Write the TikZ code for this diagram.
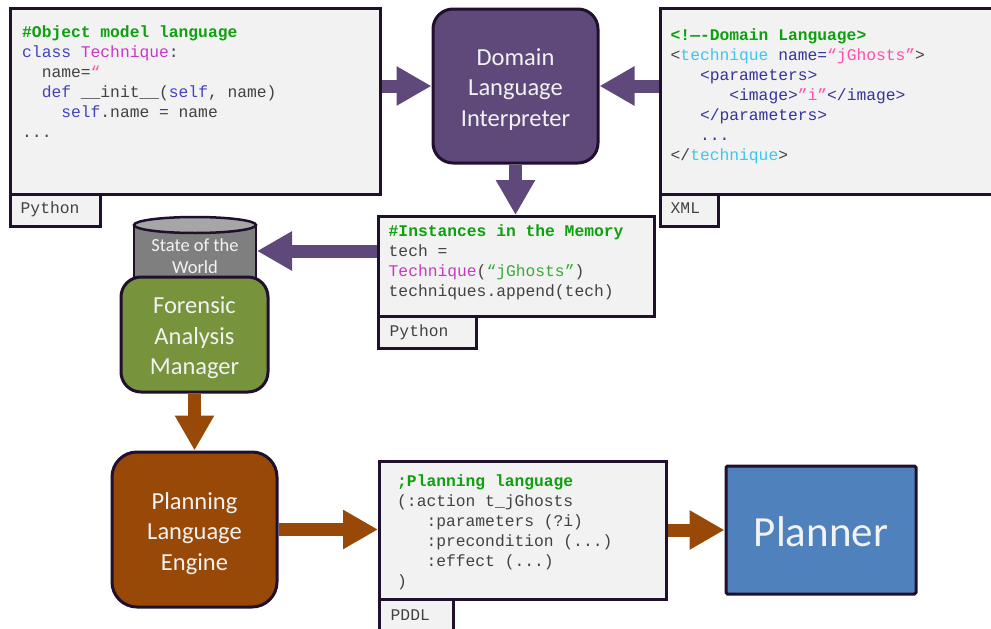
\documentclass[tikz,border=0pt]{standalone}
\usepackage{fontspec}
\setmainfont{Carlito}
\newfontfamily\codefont{Liberation Mono}
\usetikzlibrary{arrows.meta,backgrounds}

\definecolor{edge}{HTML}{20102E}
\definecolor{dlifill}{HTML}{5F497A}
\definecolor{famfill}{HTML}{77933C}
\definecolor{plefill}{HTML}{984807}
\definecolor{planfill}{HTML}{4F81BD}
\definecolor{codebg}{HTML}{F2F2F2}
\definecolor{cmt}{HTML}{0EA00E}
\definecolor{kw}{HTML}{4242BE}
\definecolor{cls}{HTML}{C838C8}
\definecolor{str}{HTML}{FF4FB0}
\definecolor{txt}{HTML}{424242}
\definecolor{tag}{HTML}{3CC8EC}
\definecolor{attr}{HTML}{34349A}
\definecolor{pystr}{HTML}{3AAA3A}
\definecolor{cyltop}{HTML}{A6A6A6}
\definecolor{cylbody}{HTML}{7F7F7F}
\definecolor{lbl}{HTML}{F2F2F2}

% one code line: fixed 20pt line box, 14pt above the baseline
\newcommand\cs{\rule[-6pt]{0pt}{20pt}}
% indentation by a number of monospaced character cells
\newlength\chw
\setlength\chw{9.78pt}
\newcommand\ind[1]{\hspace*{#1\chw}}

\tikzset{
  codebox/.style={draw=edge, line width=3pt, fill=codebg, anchor=north west,
    inner sep=0pt},
  codetext/.style={anchor=north west, inner sep=0pt, align=left, text=txt,
    font=\codefont\fontsize{16.3}{20}\selectfont},
  tablabel/.style={anchor=base west, inner sep=0pt, text=txt,
    font=\codefont\fontsize{16.3}{20}\selectfont},
  block/.style={draw=edge, line width=3pt, rounded corners=20pt},
  blocktext/.style={text=lbl, align=center, inner sep=0pt,
    font=\fontsize{24.5}{30.5}\selectfont},
  flow/.style={line width=13pt, -{Triangle[width=37pt,length=35pt]}},
}

\begin{document}
\begin{tikzpicture}[x=1pt, y=-1pt]
\useasboundingbox (0,0) rectangle (991,629);

% ---- code panels with their language tabs ----
\node (obj) [codebox, minimum width=370pt, minimum height=186pt] at (9,7) {};
\node (objtab) [codebox, minimum width=90pt, minimum height=32pt] at (9,193) {};
\node (xml) [codebox, minimum width=345pt, minimum height=186pt] at (659,7) {};
\node (xmltab) [codebox, minimum width=58pt, minimum height=32pt] at (659,193) {};
\node (inst) [codebox, minimum width=276pt, minimum height=100pt] at (377,215) {};
\node (insttab) [codebox, minimum width=98pt, minimum height=32pt] at (377,315) {};
\node (pddl) [codebox, minimum width=287pt, minimum height=138pt] at (378,460) {};
\node (pddltab) [codebox, minimum width=74pt, minimum height=40pt] at (378,598) {};

\node (objcode) [codetext] at (22,23.5) {%
\cs\textbf{\color{cmt}\#Object model language}\\
\cs{\color{kw}class} {\color{cls}Technique}:\\
\cs\ind{2}name={\color{str}“}\\
\cs\ind{2}{\color{kw}def} \_\_init\_\_({\color{kw}self}, name)\\
\cs\ind{4}{\color{kw}self}.name = name\\
\cs...};

\node (xmlcode) [codetext] at (670.5,26) {%
\cs\textbf{\color{cmt}<!—-Domain Language>}\\
\cs<{\color{tag}technique} {\color{attr}name=}{\color{str}“jGhosts”}>\\
\cs\ind{3}{\color{attr}<parameters>}\\
\cs\ind{6}{\color{attr}<image>}{\color{str}”i”}{\color{attr}</image>}\\
\cs\ind{3}{\color{attr}</parameters>}\\
\cs\ind{3}{\color{attr}...}\\
\cs</{\color{tag}technique}>};

\node (instcode) [codetext] at (388.5,222.7) {%
\cs\textbf{\color{cmt}\#Instances in the Memory}\\
\cs tech =\\
\cs{\color{cls}Technique}({\color{pystr}“jGhosts”})\\
\cs techniques.append(tech)};

\node (pddlcode) [codetext] at (397,472) {%
\cs\textbf{\color{cmt};Planning language}\\
\cs(:action t\_jGhosts\\
\cs\ind{3}:parameters (?i)\\
\cs\ind{3}:precondition (...)\\
\cs\ind{3}:effect (...)\\
\cs)};

\node (objlang) [tablabel] at (20.5,213) {Python};
\node (xmllang) [tablabel] at (670.5,213) {XML};
\node (instlang) [tablabel] at (389.5,336) {Python};
\node (pddllang) [tablabel] at (390.5,620) {PDDL};

% ---- state of the world store ----
\fill[cylbody] (134,225) rectangle (256,295);
\draw[edge, line width=2.5pt] (134,225) -- (134,295) (256,225) -- (256,295);
\filldraw[fill=cyltop, draw=edge, line width=2.5pt] (195,225)
  ellipse [x radius=61pt, y radius=8pt];
\node (sow) [text=lbl, align=center, font=\fontsize{18.5}{22}\selectfont]
  at (195,256) {State of the\\World};
\coordinate (sowtip) at (257,251);

% ---- processing blocks ----
\node (dli) [block, fill=dlifill, minimum width=165pt, minimum height=154pt]
  at (515.5,86) {};
\node (dlitxt) [blocktext] at (515.5,89.5) {Domain\\Language\\Interpreter};
\node (fam) [block, fill=famfill, minimum width=147pt, minimum height=115pt]
  at (194.5,334.5) {};
\node (famtxt) [blocktext] at (194.5,338) {Forensic\\Analysis\\Manager};
\node (ple) [block, fill=plefill, rounded corners=25pt, minimum width=165pt,
  minimum height=155pt] at (194.5,529.5) {};
\node (pletxt) [blocktext] at (194.5,533.5) {Planning\\Language\\Engine};
\node (planner) [draw=edge, line width=3pt, fill=planfill,
  rounded corners=1.5pt, minimum width=190pt, minimum height=128pt]
  at (821,530) {};
\node (plantxt) [text=lbl, inner sep=0pt, font=\fontsize{43}{50}\selectfont]
  at (821,532) {Planner};

% ---- flows ----
\begin{pgfonlayer}{background}
\draw[flow, dlifill] (obj.east |- dli.west) -- (dli.west);
\draw[flow, dlifill] (xml.west |- dli.east) -- (dli.east);
\draw[flow, dlifill] (dli.south) -- (dli.south |- inst.north);
\draw[flow, dlifill] (inst.west |- sowtip) -- (sowtip);
\draw[flow, plefill] (fam.south) -- (ple.north);
\draw[flow, plefill] (ple.east) -- (ple.east -| pddl.west);
\draw[flow, plefill] (pddl.east |- planner.west) -- (planner.west);
\end{pgfonlayer}
\end{tikzpicture}
\end{document}
